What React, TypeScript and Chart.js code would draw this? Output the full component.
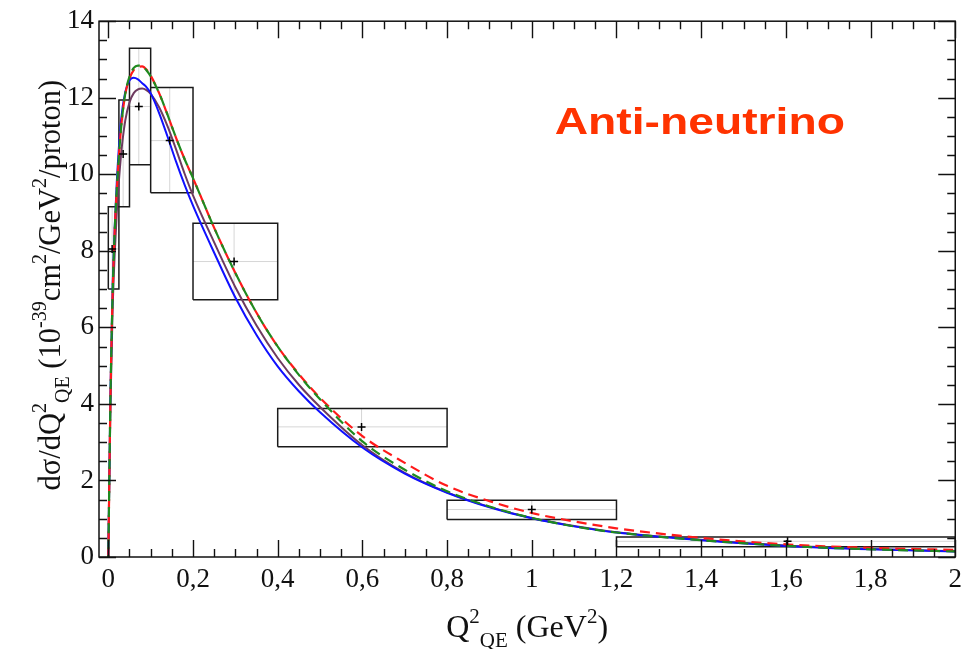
import React, { useEffect, useRef } from "react";
import { Chart, registerables } from "chart.js";

Chart.register(...registerables);

// ---- model curves (Q2 in GeV^2, dσ/dQ2 in 1e-39 cm2/GeV2/proton) ----
const curveQ2 = [0, 0.005, 0.01, 0.015, 0.02, 0.03, 0.04, 0.05, 0.06, 0.07, 0.08, 0.09, 0.1, 0.12, 0.14, 0.16, 0.18, 0.2, 0.25, 0.3, 0.35, 0.4, 0.45, 0.5, 0.6, 0.7, 0.8, 0.9, 1.0, 1.1, 1.2, 1.4, 1.6, 1.8, 2.0];
const blueModel = [0, 4.3, 7.0, 8.6, 9.8, 11.4, 12.15, 12.45, 12.52, 12.48, 12.38, 12.28, 12.12, 11.6, 10.98, 10.33, 9.73, 9.18, 7.95, 6.78, 5.8, 4.98, 4.33, 3.78, 2.86, 2.18, 1.68, 1.3, 1.01, 0.8, 0.64, 0.44, 0.29, 0.2, 0.145];
const purpleModel = [0, 3.9, 6.4, 7.9, 9.0, 10.5, 11.4, 11.88, 12.12, 12.22, 12.24, 12.2, 12.1, 11.75, 11.25, 10.65, 10.02, 9.45, 8.22, 7.05, 6.05, 5.2, 4.5, 3.92, 2.92, 2.2, 1.69, 1.31, 1.02, 0.81, 0.65, 0.45, 0.3, 0.21, 0.15];
const greenModel = [0, 4.1, 6.8, 8.5, 9.6, 11.2, 12.1, 12.55, 12.78, 12.84, 12.82, 12.72, 12.56, 12.12, 11.55, 10.95, 10.4, 9.9, 8.6, 7.42, 6.38, 5.5, 4.76, 4.12, 3.02, 2.28, 1.72, 1.32, 1.02, 0.8, 0.64, 0.44, 0.29, 0.2, 0.145];
const redModel = [0, 4.1, 6.8, 8.5, 9.6, 11.2, 12.08, 12.5, 12.72, 12.8, 12.82, 12.74, 12.58, 12.12, 11.55, 10.95, 10.4, 9.9, 8.6, 7.42, 6.38, 5.5, 4.78, 4.16, 3.16, 2.46, 1.86, 1.46, 1.15, 0.93, 0.75, 0.5, 0.33, 0.24, 0.185];

// ---- measured data (bins, points, error bands) ----
const binLow = [0, 0.025, 0.05, 0.1, 0.2, 0.4, 0.8, 1.2];
const binHigh = [0.025, 0.05, 0.1, 0.2, 0.4, 0.8, 1.2, 2.0];
const dataQ2 = [0.009, 0.035, 0.072, 0.145, 0.297, 0.598, 1.0, 1.604];
const dataXsec = [8.05, 10.53, 11.77, 10.88, 7.72, 3.4, 1.24, 0.41];
const errLow = [7.0, 9.15, 10.25, 9.52, 6.72, 2.88, 0.98, 0.27];
const errHigh = [9.15, 11.94, 13.29, 12.27, 8.72, 3.88, 1.48, 0.52];

// ---- axes ----
const xTickValues = [0, 0.2, 0.4, 0.6, 0.8, 1.0, 1.2, 1.4, 1.6, 1.8, 2.0];
const xTickLabels = ["0", "0,2", "0,4", "0,6", "0,8", "1", "1,2", "1,4", "1,6", "1,8", "2"];
const yTickLabels = ["0", "2", "4", "6", "8", "10", "12", "14"];
const xMinorStep = 0.05;
const yMinorStep = 0.5;
const xMajorStep = 0.2;
const yMajorStep = 2;

type Seg = { t: string; k: "n" | "sup" | "sub" };
const yTitleSegs: Seg[] = [
  { t: "dσ/dQ", k: "n" },
  { t: "2", k: "sup" },
  { t: "QE", k: "sub" },
  { t: " (10", k: "n" },
  { t: "-39", k: "sup" },
  { t: "cm", k: "n" },
  { t: "2", k: "sup" },
  { t: "/GeV", k: "n" },
  { t: "2", k: "sup" },
  { t: "/proton)", k: "n" },
];
const xTitleSegs: Seg[] = [
  { t: "Q", k: "n" },
  { t: "2", k: "sup" },
  { t: "QE", k: "sub" },
  { t: " (GeV", k: "n" },
  { t: "2", k: "sup" },
  { t: ")", k: "n" },
];
const annotationText = "Anti-neutrino";

const SERIF = '"Liberation Serif", "Times New Roman", serif';

function drawRich(ctx: CanvasRenderingContext2D, segs: Seg[], cx: number, baseY: number, size: number) {
  const sm = Math.round(size * 0.66);
  const fontFor = (k: string) => `${k === "n" ? size : sm}px ${SERIF}`;
  let total = 0;
  const ws = segs.map((s) => {
    ctx.font = fontFor(s.k);
    const w = ctx.measureText(s.t).width;
    total += w;
    return w;
  });
  let x = cx - total / 2;
  ctx.textAlign = "left";
  ctx.textBaseline = "alphabetic";
  segs.forEach((s, i) => {
    ctx.font = fontFor(s.k);
    const dy = s.k === "sup" ? -size * 0.45 : s.k === "sub" ? size * 0.3 : 0;
    ctx.fillText(s.t, x, baseY + dy);
    x += ws[i];
  });
}

const framePlugin = {
  id: "frameTicks",
  afterDatasetsDraw(chart: any) {
    const { ctx, chartArea, scales } = chart;
    const { left, right, top, bottom } = chartArea;
    const xs = scales.x;
    const ys = scales.y;
    ctx.save();
    ctx.strokeStyle = "#111";
    ctx.lineWidth = 1.5;
    ctx.strokeRect(left, top, right - left, bottom - top);
    ctx.lineWidth = 1.4;
    ctx.beginPath();
    const nx = Math.round(2 / xMinorStep);
    for (let i = 0; i <= nx; i++) {
      const v = i * xMinorStep;
      const major = Math.abs(v / xMajorStep - Math.round(v / xMajorStep)) < 1e-6;
      const len = major ? 17 : 8;
      const px = Math.round(xs.getPixelForValue(v)) + 0.5;
      ctx.moveTo(px, bottom);
      ctx.lineTo(px, bottom - len);
      ctx.moveTo(px, top);
      ctx.lineTo(px, top + len);
    }
    const ny = Math.round(14 / yMinorStep);
    for (let i = 0; i <= ny; i++) {
      const v = i * yMinorStep;
      const major = Math.abs(v / yMajorStep - Math.round(v / yMajorStep)) < 1e-6;
      const len = major ? 17 : 8;
      const py = Math.round(ys.getPixelForValue(v)) + 0.5;
      ctx.moveTo(left, py);
      ctx.lineTo(left + len, py);
      ctx.moveTo(right, py);
      ctx.lineTo(right - len, py);
    }
    ctx.stroke();
    ctx.restore();
  },
  afterDraw(chart: any) {
    const { ctx, chartArea, scales } = chart;
    const { left, right, top, bottom } = chartArea;
    ctx.save();
    ctx.fillStyle = "#111";
    // x title
    drawRich(ctx, xTitleSegs, (left + right) / 2, 637, 32);
    // y title (rotated)
    ctx.save();
    ctx.translate(60, (top + bottom) / 2 - 4);
    ctx.rotate(-Math.PI / 2);
    drawRich(ctx, yTitleSegs, 0, 0, 30.5);
    ctx.restore();
    // annotation
    const ax = scales.x.getPixelForValue(1.054);
    const ay = scales.y.getPixelForValue(11.05);
    ctx.translate(ax, ay);
    ctx.scale(1.25, 1);
    ctx.fillStyle = "#ff3300";
    ctx.font = 'bold 37px "Liberation Sans", Arial, sans-serif';
    ctx.textAlign = "left";
    ctx.textBaseline = "alphabetic";
    ctx.fillText(annotationText, 0, 0);
    ctx.restore();
  },
};

export default function App() {
  const ref = useRef<HTMLCanvasElement | null>(null);

  useEffect(() => {
    if (!ref.current) return;
    const curve = (vals: number[]) => curveQ2.map((x, i) => ({ x, y: vals[i] }));

    const boxPts: any[] = [];
    const guidePts: any[] = [];
    binLow.forEach((lo, i) => {
      const hi = binHigh[i];
      boxPts.push({ x: lo, y: errLow[i] }, { x: hi, y: errLow[i] }, { x: hi, y: errHigh[i] }, { x: lo, y: errHigh[i] }, { x: lo, y: errLow[i] }, { x: lo, y: null });
      guidePts.push({ x: lo, y: dataXsec[i] }, { x: hi, y: dataXsec[i] }, { x: hi, y: null });
      guidePts.push({ x: dataQ2[i], y: errLow[i] }, { x: dataQ2[i], y: errHigh[i] }, { x: dataQ2[i], y: null });
    });

    const chart = new Chart(ref.current, {
      type: "scatter",
      data: {
        datasets: [
          {
            label: "guides",
            data: guidePts,
            showLine: true,
            spanGaps: false,
            borderColor: "#d6d6d6",
            borderWidth: 1,
            pointRadius: 0,
            order: 10,
          },
          {
            label: "boxes",
            data: boxPts,
            showLine: true,
            spanGaps: false,
            borderColor: "#1a1a1a",
            borderWidth: 1.5,
            pointRadius: 0,
            order: 9,
          },
          {
            label: "purple",
            data: curve(purpleModel),
            showLine: true,
            borderColor: "#6e3b60",
            borderWidth: 2,
            pointRadius: 0,
            cubicInterpolationMode: "monotone",
            order: 5,
          },
          {
            label: "blue",
            data: curve(blueModel),
            showLine: true,
            borderColor: "#1010ff",
            borderWidth: 2,
            pointRadius: 0,
            cubicInterpolationMode: "monotone",
            order: 4,
          },
          {
            label: "red",
            data: curve(redModel),
            showLine: true,
            borderColor: "#ff1a1a",
            borderWidth: 2.2,
            borderDash: [10, 6],
            pointRadius: 0,
            cubicInterpolationMode: "monotone",
            order: 3,
          },
          {
            label: "green",
            data: curve(greenModel),
            showLine: true,
            borderColor: "#1f8a1f",
            borderWidth: 2.2,
            borderDash: [10, 6],
            borderDashOffset: 8,
            pointRadius: 0,
            cubicInterpolationMode: "monotone",
            order: 2,
          },
          {
            label: "data",
            data: dataQ2.map((x, i) => ({ x, y: dataXsec[i] })),
            showLine: false,
            pointStyle: "cross",
            pointRadius: 4,
            borderColor: "#000",
            borderWidth: 1.5,
            order: 1,
          },
        ],
      },
      options: {
        responsive: false,
        animation: false,
        events: [],
        layout: { padding: { top: 16, right: 12, left: 0, bottom: 0 } },
        plugins: { legend: { display: false }, tooltip: { enabled: false } },
        scales: {
          x: {
            type: "linear",
            min: -0.022,
            max: 2,
            grid: { display: false, drawTicks: false },
            border: { display: false },
            afterBuildTicks: (s: any) => {
              s.ticks = xTickValues.map((v) => ({ value: v }));
            },
            afterFit: (s: any) => {
              s.height = 92;
            },
            ticks: {
              autoSkip: false,
              maxRotation: 0,
              padding: 7,
              color: "#111",
              font: { family: SERIF, size: 27 },
              callback: (_v: any, i: number) => xTickLabels[i],
            },
          },
          y: {
            type: "linear",
            min: 0,
            max: 14,
            grid: { display: false, drawTicks: false },
            border: { display: false },
            afterFit: (s: any) => {
              s.width = 99;
            },
            ticks: {
              stepSize: 2,
              padding: 5,
              color: "#111",
              font: { family: SERIF, size: 27 },
              callback: (_v: any, i: number) => yTickLabels[i],
            },
          },
        },
      },
      plugins: [framePlugin],
    } as any);

    return () => chart.destroy();
  }, []);

  return (
    <div style={{ position: "absolute", left: 0, top: 0, width: 969, height: 649, background: "#fff" }}>
      <canvas ref={ref} width={969} height={649} style={{ display: "block" }} />
    </div>
  );
}
